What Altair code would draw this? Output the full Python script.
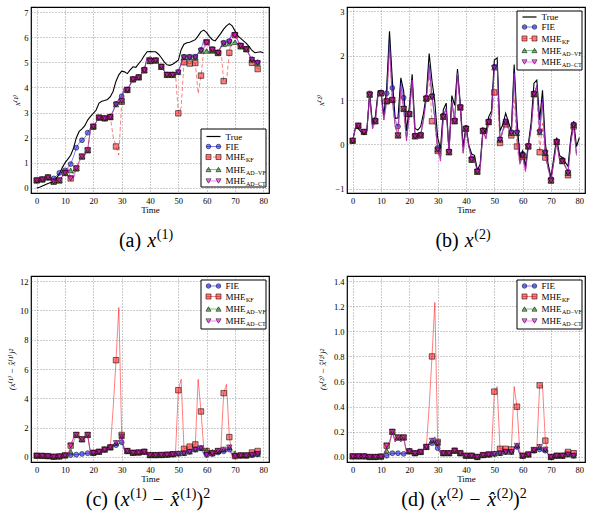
import altair as alt
import pandas as pd

SERIF = "Liberation Serif, DejaVu Serif, serif"
W, H = 238, 186
X_DOMAIN = [-2, 82]
X_TICKS = [0, 10, 20, 30, 40, 50, 60, 70, 80]

T_TRUE = list(range(81))
T_EST = list(range(80))

# ---------------- state x(1) ----------------
A_TRUE = [0.00, 0.03, 0.08, 0.13, 0.18, 0.22, 0.25, 0.40, 0.55, 0.80,
          1.00, 1.15, 1.30, 1.58, 2.00, 2.25, 2.35, 2.48, 2.70, 2.85,
          2.97, 3.10, 3.38, 3.45, 3.48, 3.52, 3.63, 3.85, 4.25, 4.50,
          4.65, 4.62, 4.55, 4.70, 4.82, 4.80, 4.95, 5.08, 5.27, 5.42,
          5.43, 5.42, 5.42, 5.32, 5.18, 5.02, 4.90, 4.88, 4.92, 5.00,
          5.08, 5.50, 5.72, 5.78, 5.80, 5.85, 5.90, 6.05, 6.22, 6.28,
          6.18, 6.02, 5.90, 5.85, 6.00, 6.15, 6.32, 6.45, 6.54, 6.45,
          6.25, 6.05, 5.95, 5.85, 5.75, 5.62, 5.47, 5.38, 5.40, 5.42,
          5.38]
A_FIE = [0.30, 0.32, 0.34, 0.38, 0.42, 0.40, 0.38, 0.50, 0.60, 0.62,
         0.70, 0.80, 0.95, 1.25, 1.60, 1.80, 1.90, 2.00, 2.20, 2.40,
         2.44, 2.62, 2.80, 2.78, 2.77, 2.78, 2.84, 3.08, 3.35, 3.55,
         3.65, 4.02, 3.92, 4.12, 4.33, 4.36, 4.41, 4.55, 4.72, 5.18,
         5.12, 5.10, 5.08, 4.96, 4.83, 4.66, 4.51, 4.51, 4.51, 4.56,
         4.62, 4.97, 5.22, 5.22, 5.22, 5.22, 5.22, 5.38, 5.50, 5.90,
         5.80, 5.65, 5.52, 5.45, 5.40, 5.62, 5.78, 5.78, 5.85, 6.20,
         6.10, 5.88, 5.67, 5.62, 5.54, 5.32, 5.12, 5.02, 5.00, 5.02]
A_KF = [0.30, 0.32, 0.34, 0.38, 0.42, 0.35, 0.25, 0.27, 0.30, 0.45,
        0.60, 0.78, 0.38, 0.40, 0.78, 1.05, 1.25, 1.32, 1.50, 2.35,
        2.44, 2.62, 2.80, 2.78, 2.77, 2.78, 2.82, 2.05, 1.65, 1.31,
        3.43, 4.00, 3.90, 4.10, 4.32, 4.35, 4.40, 4.52, 4.68, 5.20,
        5.05, 5.08, 5.07, 4.95, 4.82, 4.65, 4.50, 4.50, 4.50, 4.55,
        2.97, 3.20, 5.00, 4.97, 4.95, 4.96, 4.97, 3.75, 4.47, 5.50,
        5.80, 5.62, 5.50, 5.42, 5.37, 5.60, 4.25, 4.23, 5.38, 6.10,
        6.08, 5.85, 5.65, 5.60, 5.52, 5.30, 4.98, 4.85, 4.73, 4.80]
A_VF = [0.30, 0.32, 0.34, 0.38, 0.42, 0.35, 0.25, 0.27, 0.30, 0.45,
        0.60, 0.70, 0.70, 0.55, 0.78, 1.05, 1.25, 1.32, 1.50, 2.35,
        2.44, 2.62, 2.80, 2.78, 2.77, 2.78, 2.82, 3.05, 3.32, 3.50,
        3.47, 4.00, 3.90, 4.10, 4.32, 4.35, 4.40, 4.52, 4.68, 5.20,
        5.05, 5.08, 5.07, 4.95, 4.82, 4.65, 4.50, 4.50, 4.50, 4.55,
        4.60, 4.95, 5.20, 5.20, 5.20, 5.20, 5.20, 5.35, 5.45, 5.50,
        5.45, 5.40, 5.45, 5.35, 5.37, 5.60, 5.72, 5.72, 5.75, 5.80,
        5.80, 5.75, 5.62, 5.60, 5.52, 5.30, 5.10, 5.00, 4.97, 5.00]
A_CT = [0.30, 0.32, 0.34, 0.38, 0.42, 0.35, 0.25, 0.27, 0.30, 0.45,
        0.60, 0.78, 0.38, 0.40, 0.78, 1.05, 1.25, 1.32, 1.50, 2.35,
        2.44, 2.62, 2.80, 2.78, 2.77, 2.78, 2.82, 3.05, 3.32, 3.50,
        3.47, 4.00, 3.90, 4.10, 4.32, 4.35, 4.40, 4.52, 4.68, 5.20,
        5.05, 5.08, 5.07, 4.95, 4.82, 4.65, 4.50, 4.50, 4.50, 4.55,
        4.60, 4.95, 5.20, 5.20, 5.20, 5.20, 5.20, 5.35, 5.45, 5.60,
        5.78, 5.62, 5.50, 5.42, 5.37, 5.60, 5.75, 5.75, 5.80, 6.15,
        6.08, 5.85, 5.65, 5.60, 5.52, 5.30, 5.10, 5.00, 4.97, 5.00]

# ---------------- state x(2) ----------------
B_TRUE = [0.08, 0.38, 0.35, 0.28, 0.22, 0.30, 1.15, 0.45, 0.62, 1.20,
          1.20, 0.65, 1.27, 2.55, 1.45, 0.58, 0.60, 1.50, 1.20, 0.30,
          0.85, 1.58, 0.36, 0.32, 0.40, 0.70, 1.12, 2.05, 1.43, 0.95,
          0.15, -0.10, 0.78, 0.93, -0.15, 1.10, 0.88, 1.70, 0.90, -0.05,
          0.42, -0.02, -0.22, -0.25, -0.58, -0.45, 0.35, 0.25, 0.62, 0.75,
          1.90, 1.95, 0.30, 0.45, 0.70, 0.50, 0.30, 1.80, 0.55, -0.30,
          -0.15, -0.50, 0.00, 0.50, 1.38, 1.45, 0.55, 1.22, 0.02, -0.45,
          -0.75, -0.30, 0.15, -0.25, -0.30, -0.40, -0.50, 0.15, 0.52, -0.05,
          0.15]
B_FIE = [0.08, 0.38, 0.42, 0.30, 0.28, 0.32, 1.15, 0.40, 0.55, 1.18,
         1.17, 0.60, 1.15, 2.40, 1.27, 0.55, 0.40, 1.40, 1.05, 0.15,
         0.70, 1.48, 0.20, 0.15, 0.22, 0.58, 1.05, 1.80, 1.10, 0.60,
         -0.08, -0.33, 0.65, 0.82, -0.15, 0.98, 0.55, 1.63, 0.85, -0.15,
         0.37, -0.03, -0.32, -0.33, -0.60, -0.52, 0.32, 0.15, 0.52, 0.68,
         1.75, 1.82, 0.12, 0.33, 0.52, 0.38, 0.28, 1.65, 0.28, -0.40,
         -0.22, -0.58, -0.03, 0.38, 1.15, 1.33, 0.30, 1.00, -0.17, -0.50,
         -0.78, -0.37, 0.07, -0.32, -0.35, -0.47, -0.62, 0.08, 0.45, -0.20]
B_KF = [0.08, 0.38, 0.42, 0.30, 0.28, 0.30, 1.12, 0.35, 0.52, 1.15,
        1.15, 0.55, 0.97, 2.20, 1.00, 0.40, 0.20, 1.30, 0.80, 0.08,
        0.68, 1.45, 0.18, 0.12, 0.20, 0.55, 1.03, 1.55, 0.52, 0.45,
        -0.15, -0.38, 0.62, 0.80, -0.18, 0.95, 0.52, 1.60, 0.83, -0.20,
        0.35, -0.05, -0.35, -0.35, -0.62, -0.55, 0.30, 0.12, 0.50, 0.65,
        1.17, 1.20, 0.03, 0.28, 0.45, 0.32, 0.20, 1.05, -0.05, -0.45,
        -0.28, -0.62, -0.05, 0.35, 1.13, 1.30, -0.18, 0.47, -0.30, -0.55,
        -0.82, -0.40, 0.05, -0.35, -0.38, -0.50, -0.70, 0.02, 0.40, -0.25]
B_VF = [0.08, 0.38, 0.42, 0.30, 0.28, 0.30, 1.12, 0.35, 0.52, 1.15,
        1.15, 0.55, 0.97, 2.30, 1.00, 0.40, 0.20, 1.30, 0.80, 0.08,
        0.68, 1.45, 0.18, 0.12, 0.20, 0.55, 1.03, 1.75, 1.07, 0.60,
        -0.12, -0.32, 0.62, 0.80, -0.18, 0.95, 0.52, 1.60, 0.83, -0.20,
        0.35, -0.05, -0.35, -0.35, -0.62, -0.55, 0.30, 0.12, 0.50, 0.65,
        1.73, 1.80, 0.10, 0.30, 0.50, 0.35, 0.25, 1.60, 0.25, -0.45,
        -0.25, -0.55, -0.05, 0.35, 1.13, 1.30, 0.27, 0.95, -0.20, -0.55,
        -0.82, -0.40, 0.05, -0.35, -0.38, -0.50, -0.65, 0.05, 0.43, -0.25]
B_CT = [0.08, 0.38, 0.42, 0.30, 0.28, 0.30, 1.12, 0.35, 0.52, 1.15,
        1.15, 0.55, 0.97, 2.20, 1.00, 0.40, 0.20, 1.30, 0.80, 0.08,
        0.68, 1.45, 0.18, 0.12, 0.20, 0.55, 1.03, 1.75, 1.07, 0.55,
        -0.12, -0.38, 0.62, 0.80, -0.18, 0.95, 0.52, 1.60, 0.83, -0.20,
        0.35, -0.05, -0.35, -0.35, -0.62, -0.55, 0.30, 0.12, 0.50, 0.65,
        1.73, 1.80, 0.10, 0.30, 0.50, 0.35, 0.25, 1.60, 0.25, -0.45,
        -0.25, -0.62, -0.05, 0.35, 1.13, 1.30, 0.27, 0.95, -0.20, -0.55,
        -0.82, -0.40, 0.05, -0.35, -0.38, -0.50, -0.65, 0.05, 0.43, -0.25]

# ---------------- squared error, x(1) ----------------
C_FIE = [0.08, 0.08, 0.07, 0.06, 0.05, 0.03, 0.01, 0.02, 0.03, 0.06,
         0.10, 0.10, 0.12, 0.14, 0.15, 0.18, 0.20, 0.22, 0.25, 0.26,
         0.28, 0.30, 0.35, 0.42, 0.50, 0.58, 0.65, 0.72, 0.80, 0.90,
         1.00, 0.45, 0.40, 0.35, 0.28, 0.28, 0.30, 0.32, 0.35, 0.12,
         0.12, 0.12, 0.12, 0.12, 0.13, 0.14, 0.15, 0.16, 0.18, 0.20,
         0.22, 0.24, 0.25, 0.30, 0.35, 0.42, 0.50, 0.55, 0.58, 0.15,
         0.12, 0.15, 0.20, 0.25, 0.30, 0.35, 0.38, 0.45, 0.50, 0.10,
         0.05, 0.08, 0.08, 0.08, 0.08, 0.10, 0.12, 0.15, 0.18, 0.18]
C_KF = [0.08, 0.08, 0.07, 0.06, 0.05, 0.03, 0.01, 0.02, 0.03, 0.06,
        0.10, 0.10, 0.77, 1.30, 1.50, 1.25, 1.20, 1.30, 1.50, 0.25,
        0.28, 0.30, 0.35, 0.42, 0.50, 0.55, 0.65, 3.30, 6.60, 10.20,
        1.50, 0.45, 0.40, 0.35, 0.28, 0.28, 0.30, 0.32, 0.35, 0.10,
        0.12, 0.12, 0.12, 0.12, 0.13, 0.14, 0.15, 0.16, 0.18, 0.25,
        4.55, 5.30, 0.55, 0.62, 0.70, 0.78, 0.85, 5.30, 3.10, 0.50,
        0.40, 0.15, 0.25, 0.30, 0.40, 0.45, 4.35, 4.95, 1.35, 0.20,
        0.05, 0.08, 0.10, 0.10, 0.10, 0.15, 0.30, 0.35, 0.40, 0.38]
C_VF = [0.08, 0.08, 0.07, 0.06, 0.05, 0.03, 0.01, 0.02, 0.03, 0.06,
        0.10, 0.10, 0.35, 1.00, 1.50, 1.25, 1.20, 1.30, 1.50, 0.25,
        0.28, 0.30, 0.35, 0.42, 0.50, 0.55, 0.65, 0.78, 0.95, 1.10,
        1.40, 0.45, 0.40, 0.35, 0.28, 0.28, 0.30, 0.32, 0.35, 0.10,
        0.12, 0.12, 0.12, 0.12, 0.13, 0.14, 0.15, 0.16, 0.18, 0.20,
        0.22, 0.24, 0.25, 0.30, 0.35, 0.42, 0.50, 0.55, 0.60, 0.45,
        0.45, 0.40, 0.35, 0.35, 0.40, 0.45, 0.50, 0.55, 0.65, 0.45,
        0.25, 0.10, 0.10, 0.10, 0.10, 0.12, 0.15, 0.18, 0.20, 0.20]
C_CT = [0.08, 0.08, 0.07, 0.06, 0.05, 0.03, 0.01, 0.02, 0.03, 0.06,
        0.10, 0.10, 0.77, 1.30, 1.50, 1.25, 1.20, 1.30, 1.50, 0.25,
        0.28, 0.30, 0.35, 0.42, 0.50, 0.55, 0.65, 0.78, 0.95, 1.10,
        1.40, 0.45, 0.40, 0.35, 0.28, 0.28, 0.30, 0.32, 0.35, 0.10,
        0.12, 0.12, 0.12, 0.12, 0.13, 0.14, 0.15, 0.16, 0.18, 0.20,
        0.22, 0.24, 0.25, 0.30, 0.35, 0.42, 0.50, 0.55, 0.60, 0.45,
        0.15, 0.15, 0.25, 0.30, 0.40, 0.45, 0.50, 0.55, 0.65, 0.10,
        0.05, 0.08, 0.10, 0.10, 0.10, 0.12, 0.15, 0.18, 0.20, 0.20]

# ---------------- squared error, x(2) ----------------
D_FIE = [0.005, 0.005, 0.005, 0.005, 0.005, 0.003, 0.0, 0.0, 0.0, 0.002,
         0.003, 0.005, 0.01, 0.02, 0.03, 0.03, 0.03, 0.025, 0.025, 0.03,
         0.045, 0.035, 0.03, 0.035, 0.04, 0.06, 0.08, 0.10, 0.11, 0.13,
         0.07, 0.03, 0.03, 0.03, 0.03, 0.04, 0.05, 0.04, 0.03, 0.01,
         0.01, 0.01, 0.01, 0.005, 0.0, 0.01, 0.015, 0.02, 0.02, 0.025,
         0.025, 0.03, 0.03, 0.035, 0.04, 0.04, 0.04, 0.06, 0.08, 0.02,
         0.01, 0.01, 0.02, 0.04, 0.05, 0.06, 0.06, 0.05, 0.05, 0.02,
         0.0, 0.01, 0.01, 0.01, 0.01, 0.015, 0.02, 0.015, 0.01, 0.01]
D_KF = [0.005, 0.005, 0.005, 0.005, 0.005, 0.003, 0.0, 0.0, 0.0, 0.002,
        0.003, 0.01, 0.09, 0.12, 0.20, 0.12, 0.155, 0.12, 0.155, 0.04,
        0.045, 0.035, 0.03, 0.035, 0.04, 0.06, 0.08, 0.40, 0.80, 1.23,
        0.12, 0.03, 0.03, 0.03, 0.03, 0.04, 0.05, 0.04, 0.03, 0.01,
        0.01, 0.01, 0.01, 0.005, 0.0, 0.01, 0.015, 0.02, 0.02, 0.03,
        0.52, 0.56, 0.065, 0.065, 0.065, 0.06, 0.06, 0.56, 0.40, 0.04,
        0.01, 0.01, 0.02, 0.04, 0.055, 0.07, 0.57, 0.57, 0.13, 0.02,
        0.0, 0.01, 0.01, 0.01, 0.01, 0.05, 0.04, 0.03, 0.03, 0.055]
D_VF = [0.005, 0.005, 0.005, 0.005, 0.005, 0.003, 0.0, 0.0, 0.0, 0.002,
        0.003, 0.01, 0.05, 0.10, 0.20, 0.12, 0.155, 0.12, 0.155, 0.04,
        0.045, 0.035, 0.03, 0.035, 0.04, 0.06, 0.08, 0.11, 0.13, 0.16,
        0.11, 0.03, 0.03, 0.03, 0.03, 0.04, 0.05, 0.04, 0.03, 0.01,
        0.01, 0.01, 0.01, 0.005, 0.0, 0.01, 0.015, 0.02, 0.02, 0.025,
        0.025, 0.03, 0.03, 0.035, 0.04, 0.04, 0.04, 0.06, 0.09, 0.02,
        0.01, 0.01, 0.02, 0.04, 0.055, 0.07, 0.08, 0.07, 0.06, 0.02,
        0.0, 0.01, 0.01, 0.01, 0.01, 0.015, 0.02, 0.015, 0.01, 0.01]
D_CT = [0.005, 0.005, 0.005, 0.005, 0.005, 0.003, 0.0, 0.0, 0.0, 0.002,
        0.003, 0.01, 0.09, 0.12, 0.20, 0.12, 0.155, 0.12, 0.155, 0.04,
        0.045, 0.035, 0.03, 0.035, 0.04, 0.06, 0.08, 0.11, 0.13, 0.16,
        0.11, 0.03, 0.03, 0.03, 0.03, 0.04, 0.05, 0.04, 0.03, 0.01,
        0.01, 0.01, 0.01, 0.005, 0.0, 0.01, 0.015, 0.02, 0.02, 0.025,
        0.025, 0.03, 0.03, 0.035, 0.04, 0.04, 0.04, 0.06, 0.09, 0.02,
        0.01, 0.01, 0.02, 0.04, 0.055, 0.07, 0.08, 0.07, 0.06, 0.02,
        0.0, 0.01, 0.01, 0.01, 0.01, 0.015, 0.02, 0.015, 0.01, 0.01]

# series styling: (label, subscript, colour, marker shape, marker size)
STYLE = {
    "FIE": ("FIE", "", "#0000ff", "circle", 24),
    "KF": ("MHE", "KF", "#ff0000", "square", 30),
    "VF": ("MHE", "AD\u2212VF", "#008000", "triangle-up", 30),
    "CT": ("MHE", "AD\u2212CT", "#ff00ff", "triangle-down", 30),
}
ORDER = ["FIE", "KF", "VF", "CT"]
MARK = dict(filled=True, stroke="black", strokeWidth=0.9, fillOpacity=0.5, strokeOpacity=0.6)

ONE = pd.DataFrame({"k": [0]})

# approximate advance widths (em) of the serif face; "_" is a blank math gap
EM = {"(": 0.333, ")": 0.333, " ": 0.3, "_": 0.3, "a": 0.444, "b": 0.5, "c": 0.444,
      "d": 0.5, "x": 0.48, "1": 0.5, "2": 0.5, "\u2212": 0.6, "\u0302": 0.0,
      "M": 0.889, "H": 0.722, "E": 0.611}


def text_w(s, size):
    return sum(EM.get(ch, 0.5) for ch in s) * size


def enc(ydom, yticks, yfmt, ytitle, ytitle_x):
    x = alt.X("t:Q", scale=alt.Scale(domain=X_DOMAIN, nice=False, zero=False),
              axis=alt.Axis(values=X_TICKS, title="Time", titleY=16,
                            titleBaseline="middle", labelPadding=3))
    y = alt.Y("v:Q", scale=alt.Scale(domain=ydom, nice=False, zero=False),
              axis=alt.Axis(values=yticks, format=yfmt, title=ytitle,
                            titleX=ytitle_x, titleY=H / 2, titleAngle=270,
                            titleAlign="center", titleBaseline="middle",
                            titleFontStyle="italic", labelPadding=3))
    return x, y


def series_layers(vals, key, x, y, dashed):
    _, _, color, shape, size = STYLE[key]
    df = pd.DataFrame({"t": T_EST, "v": vals})
    line_kw = dict(color=color, strokeWidth=1, opacity=0.5)
    if dashed:
        line_kw["strokeDash"] = [4, 2.5]
    line = alt.Chart(df).mark_line(**line_kw).encode(x=x, y=y)
    pts = (alt.Chart(df).transform_filter("datum.t % 2 == 0")
           .mark_point(shape=shape, size=size, fill=color, **MARK)
           .encode(x=x, y=y))
    return [line, pts]


def legend_layers(box, rows, keys, with_true, kf_dashed):
    x0, y0, x1, y1 = box
    out = [alt.Chart(ONE).mark_rect(fill="white", stroke="black", strokeWidth=1)
           .encode(x=alt.value(x0), x2=alt.value(x1), y=alt.value(y0), y2=alt.value(y1))]
    entries = (["TRUE"] if with_true else []) + keys
    lx0, lx1, tx = x0 + 5.5, x0 + 19.5, x0 + 24.5
    for key, ry in zip(entries, rows):
        yy = y0 + ry
        if key == "TRUE":
            out.append(alt.Chart(ONE).mark_rule(color="black", strokeWidth=1.2)
                       .encode(x=alt.value(lx0), x2=alt.value(lx1), y=alt.value(yy)))
            out.append(alt.Chart(ONE).mark_text(align="left", baseline="middle", font=SERIF,
                                                fontSize=9, color="black", text="True")
                       .encode(x=alt.value(tx), y=alt.value(yy)))
            continue
        label, sub, color, shape, size = STYLE[key]
        rule_kw = dict(color=color, strokeWidth=1, opacity=0.5)
        if key == "KF" and kf_dashed:
            rule_kw["strokeDash"] = [4, 2.5]
        out.append(alt.Chart(ONE).mark_rule(**rule_kw)
                   .encode(x=alt.value(lx0), x2=alt.value(lx1), y=alt.value(yy)))
        for mx in (lx0 + 2, lx1 - 2):
            out.append(alt.Chart(ONE).mark_point(shape=shape, size=size * 0.85, fill=color, **MARK)
                       .encode(x=alt.value(mx), y=alt.value(yy)))
        out.append(alt.Chart(ONE).mark_text(align="left", baseline="middle", font=SERIF,
                                            fontSize=9, color="black", text=label)
                   .encode(x=alt.value(tx), y=alt.value(yy)))
        if sub:
            out.append(alt.Chart(ONE).mark_text(align="left", baseline="middle", font=SERIF,
                                                fontSize=6, color="black", text=sub)
                       .encode(x=alt.value(tx + text_w(label, 9) + 0.5), y=alt.value(yy + 3)))
    return out


CAP, SUP = 20, 14


def caption_layers(parts, cx, base):
    widths = [text_w(s, SUP if k == "sup" else CAP) for s, k in parts]
    x = cx - sum(widths) / 2
    out = []
    for (s, k), w in zip(parts, widths):
        if s.strip() and s != "_":
            out.append(alt.Chart(ONE).mark_text(
                align="left", baseline="alphabetic", font=SERIF,
                fontSize=SUP if k == "sup" else CAP,
                fontStyle="italic" if k == "it" else "normal",
                color="black", text=s)
                .encode(x=alt.value(x), y=alt.value(base - 8 if k == "sup" else base)))
        x += w
    return out


def panel(true_vals, est, ydom, yticks, yfmt, ytitle, ytitle_x, dashed,
          box, rows, cap_parts, cap_cx, cap_base):
    x, y = enc(ydom, yticks, yfmt, ytitle, ytitle_x)
    layers = []
    if true_vals is not None:
        tdf = pd.DataFrame({"t": T_TRUE, "v": true_vals})
        layers.append(alt.Chart(tdf).mark_line(color="black", strokeWidth=1.1).encode(x=x, y=y))
    for key in ORDER:
        layers += series_layers(est[key], key, x, y, dashed and key == "KF")
    layers += legend_layers(box, rows, ORDER, true_vals is not None, dashed)
    layers += caption_layers(cap_parts, cap_cx, cap_base)
    return alt.layer(*layers).properties(width=W, height=H)


XH = "x\u0302"
pa = panel(A_TRUE, {"FIE": A_FIE, "KF": A_KF, "VF": A_VF, "CT": A_CT},
           [-0.2, 7.2], [0, 1, 2, 3, 4, 5, 6, 7], "d", "x\u207d\u00b9\u207e", -15, True,
           (170, 122, 235, 180), [7.5, 17.5, 28, 40.5, 52],
           [("(a)", "rm"), (" ", "rm"), ("x", "it"), ("(1)", "sup")], 115, 240)
pb = panel(B_TRUE, {"FIE": B_FIE, "KF": B_KF, "VF": B_VF, "CT": B_CT},
           [-1.1, 3.1], [-1, 0, 1, 2, 3], "d", "x\u207d\u00b2\u207e", -27, True,
           (170, 4, 235, 63), [6, 16, 27.5, 39.5, 51],
           [("(b)", "rm"), (" ", "rm"), ("x", "it"), ("(2)", "sup")], 116, 240)
pc = panel(None, {"FIE": C_FIE, "KF": C_KF, "VF": C_VF, "CT": C_CT},
           [-0.35, 12.35], [0, 2, 4, 6, 8, 10, 12], "d",
           "(x\u207d\u00b9\u207e \u2212 x\u0302\u207d\u00b9\u207e)\u00b2", -20, False,
           (170, 4, 235, 53), [6, 16.5, 29, 41],
           [("(c)", "rm"), ("_", "rm"), ("(", "rm"), ("x", "it"), ("(1)", "sup"),
            ("_", "rm"), ("\u2212", "rm"), ("_", "rm"), (XH, "it"), ("(1)", "sup"),
            (")", "rm"), ("2", "sup")], 117, 230)
pd_ = panel(None, {"FIE": D_FIE, "KF": D_KF, "VF": D_VF, "CT": D_CT},
            [-0.04, 1.44], [0, 0.2, 0.4, 0.6, 0.8, 1.0, 1.2, 1.4], ".1f",
            "(x\u207d\u00b2\u207e \u2212 x\u0302\u207d\u00b2\u207e)\u00b2", -25, False,
            (170, 4, 235, 53), [6, 16.5, 29, 41],
            [("(d)", "rm"), ("_", "rm"), ("(", "rm"), ("x", "it"), ("(2)", "sup"),
             ("_", "rm"), ("\u2212", "rm"), ("_", "rm"), (XH, "it"), ("(2)", "sup"),
             (")", "rm"), ("2", "sup")], 117, 230)

chart = (alt.concat(pa, pb, pc, pd_, columns=2, spacing={"row": 83, "column": 78},
                    bounds="flush")
         .properties(padding={"left": 6, "top": 6, "right": 0, "bottom": 0}, background="white")
         .configure_view(stroke="black", strokeWidth=1.2)
         .configure_axis(labelFont=SERIF, labelFontSize=8.5, labelColor="black",
                         titleFont=SERIF, titleFontSize=9, titleFontWeight="normal",
                         titleColor="black", grid=True, gridColor="#555555",
                         gridDash=[1, 2], gridWidth=0.6, ticks=False, domain=False))

chart.save("out.html", embed_options={"renderer": "svg", "actions": False})
